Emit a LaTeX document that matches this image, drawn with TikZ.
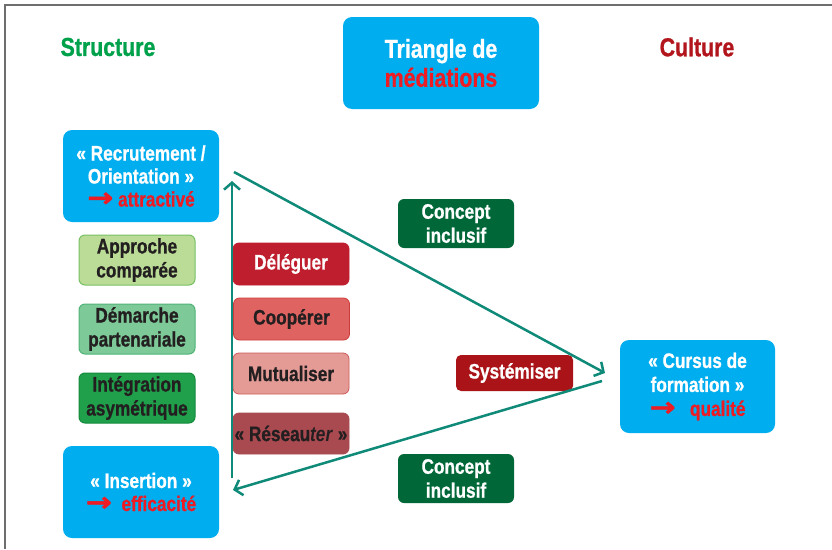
\documentclass[tikz,border=0pt]{standalone}
\usepackage{fontspec}
\setmainfont{Liberation Sans}[FakeStretch=0.82, BoldFeatures={FakeBold=0.8}]
\newfontfamily\arrowfont{DejaVu Sans}[FakeStretch=1.2, FakeBold=1.5]
\usetikzlibrary{arrows.meta}

\definecolor{cyanbox}{RGB}{0,174,239}
\definecolor{redtxt}{RGB}{237,28,36}
\definecolor{structgreen}{RGB}{0,161,75}
\definecolor{cultred}{RGB}{178,21,27}
\definecolor{darktxt}{RGB}{35,31,32}
\definecolor{gA}{RGB}{186,220,150}
\definecolor{gAb}{RGB}{120,192,100}
\definecolor{gB}{RGB}{125,201,152}
\definecolor{gBb}{RGB}{80,180,120}
\definecolor{gC}{RGB}{32,160,75}
\definecolor{gCb}{RGB}{20,140,60}
\definecolor{rA}{RGB}{190,30,45}
\definecolor{rB}{RGB}{223,100,97}
\definecolor{rBb}{RGB}{205,60,60}
\definecolor{rC}{RGB}{228,155,150}
\definecolor{rCb}{RGB}{205,90,90}
\definecolor{rD}{RGB}{168,74,80}
\definecolor{conceptgreen}{RGB}{0,104,56}
\definecolor{systred}{RGB}{170,20,25}
\definecolor{teal}{RGB}{16,138,120}
\definecolor{framegray}{RGB}{110,110,110}

% large red arrow used before the quality keywords
\newcommand{\redarrow}{{\color{redtxt}\arrowfont\fontsize{26}{23}\selectfont →}}

\tikzset{
  bigbox/.style={rectangle, rounded corners=9pt, fill=cyanbox, draw=none,
    text=white, align=center, inner sep=0pt,
    font=\bfseries\fontsize{21}{23}\selectfont},
  greenbox/.style={rectangle, rounded corners=6pt, line width=1pt,
    minimum width=116pt, minimum height=50pt, inner sep=0pt, align=center,
    text=darktxt, font=\bfseries\fontsize{21}{24}\selectfont},
  redbox/.style={rectangle, rounded corners=6pt, line width=0.8pt,
    minimum width=116pt, minimum height=42pt, inner sep=0pt, align=center,
    text=darktxt, font=\bfseries\fontsize{21}{24}\selectfont},
  conceptbox/.style={rectangle, rounded corners=6pt, fill=conceptgreen,
    minimum width=116pt, minimum height=49pt, inner sep=0pt, align=center,
    text=white, font=\bfseries\fontsize{21}{24}\selectfont},
  heading/.style={font=\bfseries\fontsize{26}{29}\selectfont, inner sep=0pt},
  link/.style={draw=teal, line width=2.5pt,
    -{Straight Barb[length=7pt,width=16pt,line width=2.5pt]}},
}

\begin{document}
\begin{tikzpicture}[x=1pt,y=-1pt]
\useasboundingbox (0,0) rectangle (832,549);
\fill[white] (0,0) rectangle (832,549);

% frame along the top and left edges
\draw[framegray, line width=2.5pt] (5,549) -- (5,5) -- (832,5);

% headings
\node[heading, text=structgreen] (structure) at (108,47) {Structure};
\node[heading, text=cultred] (culture) at (697,47) {Culture};
\node[bigbox, minimum width=196pt, minimum height=92pt,
      font=\bfseries\fontsize{26}{29}\selectfont] (triangle) at (441,63)
  {Triangle de\\{\color{redtxt}médiations}};

% corner boxes
\node[bigbox, minimum width=156pt, minimum height=92pt] (recrut) at (141,176)
  {« Recrutement /\\Orientation »\\\redarrow\ {\color{redtxt}attractivé}};
\node[bigbox, minimum width=156pt, minimum height=92pt] (insertion) at (141,492)
  {« Insertion »\\\redarrow\ \ {\color{redtxt}efficacité}};
\node[bigbox, minimum width=155pt, minimum height=93pt,
      font=\bfseries\fontsize{21}{24}\selectfont] (cursus) at (697.5,386.5)
  {« Cursus de\\formation »\\\redarrow\ \ \ {\color{redtxt}qualité}};

% structure boxes
\node[greenbox, fill=gA, draw=gAb] (approche) at (137,260) {Approche\\comparée};
\node[greenbox, fill=gB, draw=gBb] (demarche) at (137,329) {Démarche\\partenariale};
\node[greenbox, fill=gC, draw=gCb] (integration) at (137,398) {Intégration\\asymétrique};

% mediation actions
\node[redbox, fill=rA, draw=rA, text=white] (deleguer) at (291,264) {Déléguer};
\node[redbox, fill=rB, draw=rBb] (cooperer) at (291.5,319) {Coopérer};
\node[redbox, fill=rC, draw=rCb, minimum height=41pt] (mutualiser) at (291,373.5) {Mutualiser};
\node[redbox, fill=rD, draw=rD, minimum height=41pt] (reseauter) at (291,433.5)
  {« Réseau\textit{ter} »};

% inclusive concept labels and systematisation
\node[conceptbox] (concept1) at (456,223.5) {Concept\\inclusif};
\node[conceptbox] (concept2) at (456,478.5) {Concept\\inclusif};
\node[rectangle, rounded corners=5pt, fill=systred, minimum width=117pt,
      minimum height=36pt, inner sep=0pt, text=white,
      font=\bfseries\fontsize{21}{24}\selectfont] (systemiser) at (514.5,373)
  {Systémiser};

% triangle of arrows
\coordinate (upstart) at (232,478);
\coordinate (upend) at (232,181);
\coordinate (topstart) at (234,172);
\coordinate (topend) at (605,373);
\coordinate (botstart) at (602,381);
\coordinate (botend) at (233,490);
\draw[link] (upstart) -- (upend);
\draw[link] (topstart) -- (topend);
\draw[link] (botstart) -- (botend);
\end{tikzpicture}
\end{document}
